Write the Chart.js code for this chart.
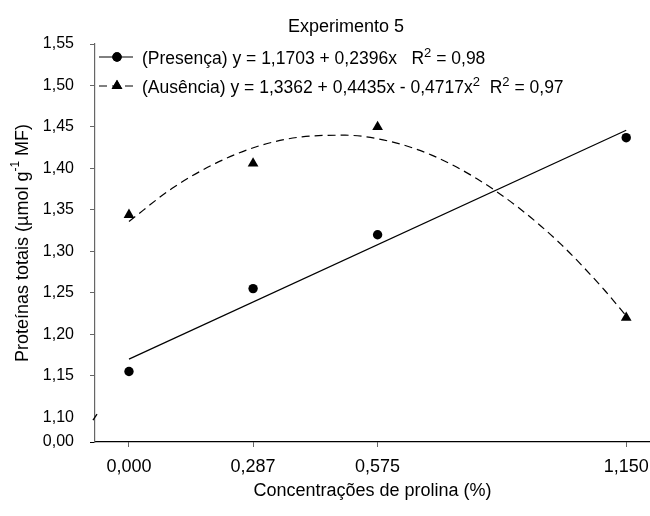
<!DOCTYPE html>
<html>
<head>
<meta charset="utf-8">
<script src="https://cdn.jsdelivr.net/npm/chart.js@4.4.1/dist/chart.umd.min.js"></script>
<style>
  body { margin: 0; background: #fff; }
  #wrap { width: 650px; height: 516px; }
</style>
</head>
<body>
<div id="wrap"><canvas id="protChart" width="650" height="516"></canvas></div>
<script>
const FONT = "'Liberation Sans', Arial, sans-serif";

// Observed means
const concentracoes = [0, 0.287, 0.575, 1.15];
const xTickLabels = ['0,000', '0,287', '0,575', '1,150'];
const presenca = [1.155, 1.255, 1.320, 1.437];
const ausencia = [1.344, 1.406, 1.450, 1.220];

// Fitted curves
const fitPresencaX = [0, 1.15];
const fitPresenca = [1.170, 1.446];
const fitAusenciaX = [0, 0.1, 0.2, 0.3, 0.4, 0.5, 0.6, 0.7, 0.8, 0.9, 1.0, 1.1, 1.15];
const fitAusencia = [1.336, 1.376, 1.406, 1.427, 1.438, 1.440, 1.433, 1.416, 1.389, 1.353, 1.308, 1.253, 1.222];

// y axis is broken: bottom tick stands for 0,00
const yTicks = [1.07, 1.10, 1.15, 1.20, 1.25, 1.30, 1.35, 1.40, 1.45, 1.50, 1.55];
const yTickLabels = ['0,00', '1,10', '1,15', '1,20', '1,25', '1,30', '1,35', '1,40', '1,45', '1,50', '1,55'];

const toPoints = (xs, ys) => xs.map((x, i) => ({ x: x, y: ys[i] }));

// Title, legend, y title and axis break
const decorPlugin = {
  id: 'decor',
  afterDraw(chart) {
    const { ctx, chartArea, scales } = chart;
    ctx.save();
    ctx.fillStyle = '#000';
    ctx.strokeStyle = '#000';

    // title
    ctx.font = `18px ${FONT}`;
    ctx.textAlign = 'center';
    ctx.textBaseline = 'alphabetic';
    ctx.fillText('Experimento 5', chartArea.left + 251, 32);

    // legend
    const drawRuns = (runs, x, y) => {
      ctx.textAlign = 'left';
      runs.forEach(([txt, sup]) => {
        ctx.font = sup ? `13px ${FONT}` : `17.5px ${FONT}`;
        ctx.fillText(txt, x, sup ? y - 7 : y);
        x += ctx.measureText(txt).width;
      });
    };
    const lx = chartArea.left + 4;
    const rows = [
      { y: 57, dash: [], style: 'circle', r: 4.7,
        runs: [['(Presença) y = 1,1703 + 0,2396x   R'], ['2', true], [' = 0,98']] },
      { y: 86, dash: [8, 5], style: 'triangle', r: 6.2,
        runs: [['(Ausência) y = 1,3362 + 0,4435x - 0,4717x'], ['2', true], ['  R'], ['2', true], [' = 0,97']] }
    ];
    rows.forEach(row => {
      ctx.lineWidth = 1;
      ctx.setLineDash(row.dash);
      ctx.beginPath();
      ctx.moveTo(lx, row.y);
      ctx.lineTo(lx + 34, row.y);
      ctx.stroke();
      ctx.setLineDash([]);
      Chart.helpers.drawPoint(ctx, { pointStyle: row.style, radius: row.r, rotation: 0, borderWidth: 0 }, lx + 18, row.y);
      ctx.fill();
      drawRuns(row.runs, lx + 43, row.y + 7);
    });

    // y axis title with superscript
    ctx.save();
    ctx.translate(23, (chartArea.top + chartArea.bottom) / 2);
    ctx.rotate(-Math.PI / 2);
    ctx.textBaseline = 'middle';
    const parts = [['Proteínas totais (µmol g'], ['-1', true], [' MF)']];
    let total = 0;
    parts.forEach(([t, sup]) => {
      ctx.font = sup ? `12px ${FONT}` : `18px ${FONT}`;
      total += ctx.measureText(t).width;
    });
    let px = -total / 2;
    parts.forEach(([t, sup]) => {
      ctx.font = sup ? `12px ${FONT}` : `18px ${FONT}`;
      ctx.textAlign = 'left';
      ctx.fillText(t, px, sup ? -7 : 0);
      px += ctx.measureText(t).width;
    });
    ctx.restore();

    // break mark on the y axis
    const by = scales.y.getPixelForValue(1.10);
    ctx.lineWidth = 1.3;
    ctx.beginPath();
    ctx.moveTo(chartArea.left - 2, by + 3);
    ctx.lineTo(chartArea.left + 2, by - 3);
    ctx.stroke();
    ctx.restore();
  }
};

new Chart(document.getElementById('protChart').getContext('2d'), {
  type: 'scatter',
  data: {
    datasets: [
      {
        label: 'Presença ajuste',
        data: toPoints(fitPresencaX, fitPresenca),
        showLine: true,
        borderColor: '#000',
        borderWidth: 1.2,
        pointRadius: 0
      },
      {
        label: 'Ausência ajuste',
        data: toPoints(fitAusenciaX, fitAusencia),
        showLine: true,
        borderColor: '#000',
        borderWidth: 1.2,
        borderDash: [8, 5],
        cubicInterpolationMode: 'monotone',
        pointRadius: 0
      },
      {
        label: 'Presença',
        data: toPoints(concentracoes, presenca),
        pointStyle: 'circle',
        pointRadius: 4.7,
        backgroundColor: '#000',
        borderColor: '#000',
        borderWidth: 0
      },
      {
        label: 'Ausência',
        data: toPoints(concentracoes, ausencia),
        pointStyle: 'triangle',
        pointRadius: 6.2,
        backgroundColor: '#000',
        borderColor: '#000',
        borderWidth: 0
      }
    ]
  },
  options: {
    responsive: false,
    animation: false,
    layout: { autoPadding: false, padding: { top: 44, left: 0, right: 0, bottom: 0 } },
    plugins: {
      legend: { display: false },
      tooltip: { enabled: false }
    },
    scales: {
      x: {
        type: 'linear',
        min: -0.0786,
        max: 1.205,
        afterBuildTicks: (scale) => {
          scale.ticks = concentracoes.map(v => ({ value: v }));
        },
        afterFit: (scale) => {
          scale.height = 74;
          scale.paddingLeft = 0;
          scale.paddingRight = 0;
        },
        ticks: {
          autoSkip: false,
          maxRotation: 0,
          padding: 9,
          color: '#000',
          font: { family: FONT, size: 18 },
          callback: (value, index) => xTickLabels[index]
        },
        grid: {
          drawOnChartArea: false,
          drawTicks: true,
          tickLength: 5,
          tickColor: '#666'
        },
        border: { color: '#000', width: 1.2 },
        title: {
          display: true,
          text: 'Concentrações de prolina (%)',
          color: '#000',
          font: { family: FONT, size: 18 },
          padding: { top: 0, bottom: 14 }
        }
      },
      y: {
        type: 'linear',
        min: 1.07,
        max: 1.55,
        afterBuildTicks: (scale) => {
          scale.ticks = yTicks.map(v => ({ value: v }));
        },
        afterFit: (scale) => {
          scale.width = 95;
          scale.paddingTop = 0;
          scale.paddingBottom = 0;
        },
        ticks: {
          autoSkip: false,
          padding: 16,
          color: '#000',
          font: { family: FONT, size: 16 },
          callback: (value, index) => yTickLabels[index]
        },
        grid: {
          drawOnChartArea: false,
          drawTicks: true,
          tickLength: 5,
          tickColor: (c) => {
            const v = c.tick ? c.tick.value : 0;
            if (Math.abs(v - 1.10) < 1e-6) return 'rgba(0,0,0,0)';
            if (Math.abs(v - 1.07) < 1e-6) return '#000';
            return '#666';
          }
        },
        border: { color: '#666', width: 1.2 }
      }
    }
  },
  plugins: [decorPlugin]
});
</script>
</body>
</html>
